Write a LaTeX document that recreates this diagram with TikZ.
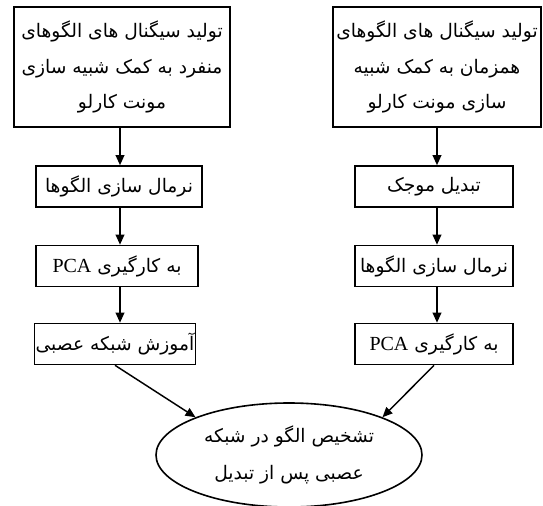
\documentclass[tikz,border=0pt]{standalone}
\usepackage{fontspec}
\setmainfont{Liberation Serif}
\newfontfamily\farsifont[Script=Arabic]{DejaVu Sans}
\TeXXeTstate=1
\usetikzlibrary{shapes.geometric, arrows.meta}

\newcommand{\px}{0.75pt}
\newcommand{\fa}[1]{{\farsifont\beginR #1\endR}}
\newcommand{\latin}[1]{\beginL{\rmfamily\fontsize{15}{18}\selectfont #1}\endL}

\begin{document}
\begin{tikzpicture}[x=0.75pt, y=-0.75pt,
    stepbox/.style={draw, line width=1.2pt, minimum height=41*\px, inner sep=1pt,
      font=\fontsize{14}{26.5}\selectfont},
    topbox/.style={stepbox, minimum height=120*\px, align=center},
    resultell/.style={draw, ellipse, line width=1.2pt, minimum width=266*\px,
      minimum height=104*\px, inner sep=0pt, align=center,
      font=\fontsize{14}{28}\selectfont},
    flow/.style={-{Triangle[length=7.5pt, width=6.5pt]}, line width=1.1pt}]
  \useasboundingbox (0,0) rectangle (543,506);

  % Left column: single patterns
  \node[topbox, minimum width=216*\px] (l1) at (122,67)
    {\fa{تولید سیگنال های الگوهای}\\\fa{منفرد به کمک شبیه سازی}\\\fa{مونت کارلو}};
  \node[stepbox, minimum width=166*\px] (l2) at (119,186.5) {\fa{نرمال سازی الگوها}};
  \node[stepbox, minimum width=162*\px] (l3) at (117,266) {\fa{به کارگیری \latin{PCA}}};
  \node[stepbox, minimum width=158*\px] (l4) at (115,344) {\fa{آموزش شبکه عصبی}};

  % Right column: simultaneous patterns
  \node[topbox, minimum width=208*\px] (r1) at (437,67)
    {\fa{تولید سیگنال های الگوهای}\\\fa{همزمان به کمک شبیه}\\\fa{سازی مونت کارلو}};
  \node[stepbox, minimum width=158*\px] (r2) at (434,186.5) {\fa{تبدیل موجک}};
  \node[stepbox, minimum width=158*\px] (r3) at (434,266) {\fa{نرمال سازی الگوها}};
  \node[stepbox, minimum width=158*\px] (r4) at (434,344) {\fa{به کارگیری \latin{PCA}}};

  % Recognition
  \node[resultell] (rec) at (289,455)
    {\fa{تشخیص الگو در شبکه}\\\fa{عصبی پس از تبدیل}};

  % Arrows
  \draw[flow] (120,127) -- (l2.north -| 120,0);
  \draw[flow] (l2.south -| 120,0) -- (l3.north -| 120,0);
  \draw[flow] (l3.south -| 120,0) -- (l4.north -| 120,0);
  \draw[flow] (l1.south -| 437,0) -- (r2.north -| 437,0);
  \draw[flow] (r2.south -| 437,0) -- (r3.north -| 437,0);
  \draw[flow] (r3.south -| 437,0) -- (r4.north -| 437,0);
  \draw[flow] (l4.south) -- (rec.158);
  \draw[flow] (r4.south) -- (rec.22);
\end{tikzpicture}
\end{document}
